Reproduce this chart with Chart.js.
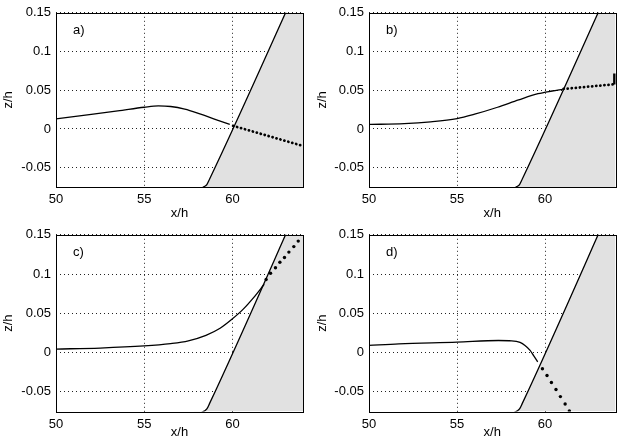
<!DOCTYPE html>
<html>
<head>
<meta charset="utf-8">
<script src="https://cdn.jsdelivr.net/npm/chart.js@4.4.1/dist/chart.umd.min.js"></script>
<style>
  body { margin: 0; background: #fff; }
  #wrap { position: relative; width: 623px; height: 445px; overflow: hidden; }
  canvas { position: absolute; }
</style>
</head>
<body>
<div id="wrap">
  <canvas id="pa" width="312" height="222" style="left:0;top:0"></canvas>
  <canvas id="pb" width="311" height="222" style="left:312px;top:0"></canvas>
  <canvas id="pc" width="312" height="223" style="left:0;top:222px"></canvas>
  <canvas id="pd" width="311" height="223" style="left:312px;top:222px"></canvas>
</div>
<script>
"use strict";

// axes
const xTicks = [50, 55, 60];
const zTicks = [-0.05, 0, 0.05, 0.1, 0.15];
const xRange = [50, 64];
const zRange = [-0.075, 0.15];

// beach profile (same in all four panels)
const beachX = [57.8, 58.2, 58.4, 58.55, 58.7, 64.2];
const beachZ = [-0.078, -0.0768, -0.0745, -0.0718, -0.065, 0.21];

// a)
const aX = [50, 52, 53.5, 55, 55.8, 56.5, 57.3, 58.2, 59.1, 59.85];
const aZ = [0.013, 0.0188, 0.0232, 0.028, 0.0298, 0.029, 0.0256, 0.019, 0.0118, 0.006];
const aDotX = [60.04, 64.0];
const aDotZ = [0.004, -0.022];

// b)
const bX = [50, 52, 53.5, 55, 56, 57.3, 58.5, 59.6, 60.4, 61.0];
const bZ = [0.0058, 0.0068, 0.0091, 0.0133, 0.019, 0.028, 0.0375, 0.0455, 0.049, 0.0512];
const bDotX = [61.05, 64.0];
const bDotZ = [0.0516, 0.0578];
const bBarX = [63.95, 63.95];
const bBarZ = [0.0575, 0.0716];

// c)
const cX = [50, 52.5, 55, 56.5, 57.5, 58.5, 59.3, 60, 60.6, 61.2, 61.8];
const cZ = [0.0045, 0.0058, 0.0085, 0.0115, 0.015, 0.022, 0.031, 0.043, 0.055, 0.070, 0.087];
const cDotX = [61.91, 62.16, 62.44, 62.69, 62.95, 63.2, 63.48, 63.73];
const cDotZ = [0.093, 0.101, 0.108, 0.115, 0.121, 0.128, 0.135, 0.142];

// d)
const dX = [50, 51.7, 55, 57.35, 58.1, 58.58, 58.86, 59.15, 59.34, 59.58];
const dZ = [0.0091, 0.0112, 0.0133, 0.0154, 0.015, 0.0129, 0.0091, 0.0029, -0.0034, -0.0117];
const dDotX = [59.85, 60.11, 60.36, 60.62, 60.87, 61.14, 61.38];
const dDotZ = [-0.0205, -0.0292, -0.038, -0.047, -0.056, -0.0655, -0.0742];

const FONT = "'Liberation Sans', Arial, Helvetica, sans-serif";
const pts = (xs, zs) => xs.map((x, i) => ({ x: x, y: zs[i] }));

// black box round the plot + the panel letter
const frame = {
  id: "frame",
  afterDraw(chart, args, opts) {
    const { ctx, chartArea: a } = chart;
    ctx.save();
    ctx.strokeStyle = "#000";
    ctx.lineWidth = 1;
    const l = Math.round(a.left) + 0.5, t = Math.round(a.top) + 0.5;
    ctx.strokeRect(l, t, Math.round(a.right) - Math.round(a.left), Math.round(a.bottom) - Math.round(a.top));
    ctx.fillStyle = "#000";
    ctx.font = "13px " + FONT;
    ctx.fillText(opts.tag, a.left + 17, a.top + 21);
    ctx.restore();
  }
};

function panel(id, tag, lay, series) {
  // lower order is drawn on top, so the grey beach goes to the back
  const datasets = [{
    data: pts(beachX, beachZ),
    order: 10,
    showLine: true,
    borderColor: "#000",
    borderWidth: 1.3,
    backgroundColor: "#e1e1e1",
    fill: "start",
    pointRadius: 0,
    cubicInterpolationMode: "monotone"
  }, {
    data: pts(series.x, series.z),
    order: 5,
    showLine: true,
    borderColor: "#000",
    borderWidth: 1.3,
    pointRadius: 0,
    cubicInterpolationMode: "monotone"
  }];
  if (series.dense) {
    datasets.push({
      data: pts(series.dotX, series.dotZ),
      order: 1,
      showLine: true,
      borderColor: "#000",
      borderWidth: 2.8,
      borderDash: [0.1, 4],
      borderCapStyle: "round",
      pointRadius: 0
    });
  } else {
    datasets.push({
      data: pts(series.dotX, series.dotZ),
      order: 1,
      showLine: false,
      pointRadius: 1.7,
      pointBackgroundColor: "#000",
      pointBorderColor: "#000",
      pointBorderWidth: 0
    });
  }
  if (series.barX) {
    datasets.push({
      data: pts(series.barX, series.barZ),
      order: 0,
      showLine: true,
      borderColor: "#000",
      borderWidth: 3,
      pointRadius: 0
    });
  }

  new Chart(document.getElementById(id), {
    type: "scatter",
    data: { datasets: datasets },
    plugins: [frame],
    options: {
      responsive: false,
      animation: false,
      devicePixelRatio: 1,
      layout: { padding: { top: lay.top, right: lay.right, left: 0, bottom: 0 } },
      plugins: {
        legend: { display: false },
        tooltip: { enabled: false },
        frame: { tag: tag }
      },
      scales: {
        x: {
          type: "linear",
          min: xRange[0],
          max: xRange[1],
          afterBuildTicks: s => { s.ticks = xTicks.map(v => ({ value: v })); },
          afterFit: s => { s.height = lay.xh; },
          ticks: { color: "#000", font: { family: FONT, size: 13 }, padding: 5, maxRotation: 0, callback: v => String(v) },
          grid: { color: "#222", lineWidth: 1, drawTicks: false },
          border: { display: false, dash: [1, 3] },
          title: { display: true, text: "x/h", color: "#000", font: { family: FONT, size: 13 }, padding: { top: 0, bottom: lay.xt } }
        },
        y: {
          type: "linear",
          min: zRange[0],
          max: zRange[1],
          afterBuildTicks: s => { s.ticks = zTicks.map(v => ({ value: v })); },
          afterFit: s => { s.width = lay.yw; },
          ticks: { color: "#000", font: { family: FONT, size: 13 }, padding: 5, callback: v => String(v) },
          grid: { color: "#222", lineWidth: 1, drawTicks: false },
          border: { display: false, dash: [1, 3] },
          title: { display: true, text: "z/h", color: "#000", font: { family: FONT, size: 13 }, padding: { top: lay.yt, bottom: 0 } }
        }
      }
    }
  });
}

panel("pa", "a)", { top: 7, right: 9, yw: 56, xh: 35, xt: 0.5, yt: 1 },
  { x: aX, z: aZ, dotX: aDotX, dotZ: aDotZ, dense: true });
panel("pb", "b)", { top: 7, right: 7.5, yw: 57, xh: 35, xt: 0.5, yt: 3 },
  { x: bX, z: bZ, dotX: bDotX, dotZ: bDotZ, dense: true, barX: bBarX, barZ: bBarZ });
panel("pc", "c)", { top: 9, right: 9, yw: 56, xh: 33.5, xt: 5, yt: 1 },
  { x: cX, z: cZ, dotX: cDotX, dotZ: cDotZ, dense: false });
panel("pd", "d)", { top: 9, right: 7.5, yw: 57, xh: 33.5, xt: 5, yt: 3 },
  { x: dX, z: dZ, dotX: dDotX, dotZ: dDotZ, dense: false });
</script>
</body>
</html>
